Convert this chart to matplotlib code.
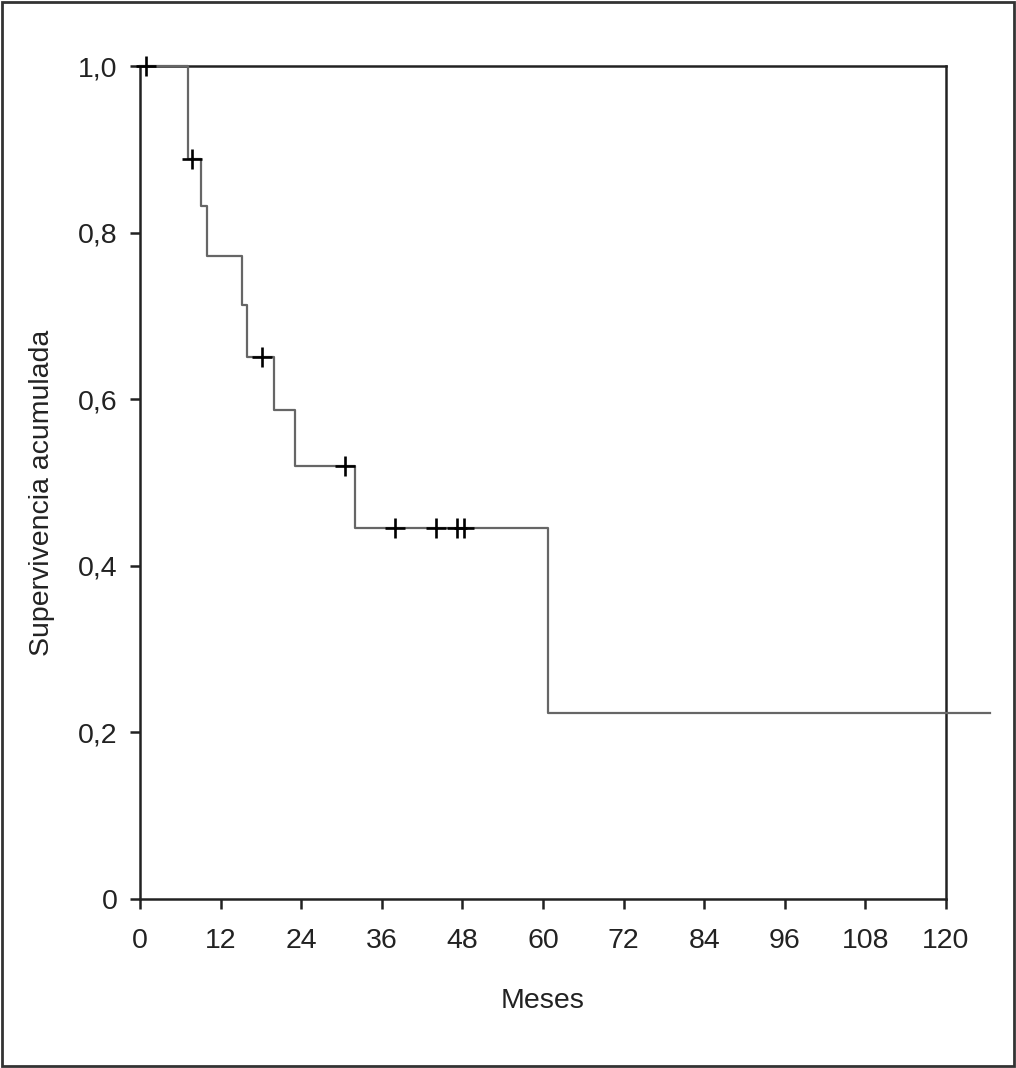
import numpy as np
import matplotlib
matplotlib.use('Agg')
import matplotlib.pyplot as plt
from matplotlib.patches import Rectangle

plt.rcParams['font.family'] = ['Liberation Sans', 'DejaVu Sans']

# Kaplan-Meier steps: time of each event (meses) and survival after it
event_times = [0, 7.1, 9.1, 9.95, 15.2, 15.9, 20.0, 23.1, 32.0, 60.7]
survival = [1.0, 0.888, 0.832, 0.772, 0.713, 0.651, 0.587, 0.520, 0.445, 0.223]
end_time = 126.5
# censored cases
censored_times = [0.9, 7.8, 18.2, 30.5, 38.0, 44.1, 47.2, 48.2]

x_ticks = [0, 12, 24, 36, 48, 60, 72, 84, 96, 108, 120]
y_ticks = [0, 0.2, 0.4, 0.6, 0.8, 1.0]
y_tick_labels = ['0', '0,2', '0,4', '0,6', '0,8', '1,0']

fig = plt.figure(figsize=(10.16, 10.68), dpi=100)
ax = fig.add_axes([0.1378, 0.1582, 0.7933, 0.7800])

# step curve
xs = event_times + [end_time]
ys = survival + [survival[-1]]
ax.step(xs, ys, where='post', color='#666666', lw=1.6, clip_on=False, zorder=3)

# censor marks on the curve
idx = np.searchsorted(event_times, censored_times, side='right') - 1
cens_y = np.array(survival)[idx]
ax.plot(censored_times, cens_y, ls='none', marker='+', ms=15, mew=1.9,
        color='black', clip_on=False, zorder=4)

ax.set_xlim(0, 120)
ax.set_ylim(0, 1.0)
ax.set_xticks(x_ticks)
ax.set_xticklabels([str(t) for t in x_ticks])
ax.set_yticks(y_ticks)
ax.set_yticklabels(y_tick_labels)
ax.tick_params(axis='both', direction='out', length=7, width=1.8,
               labelsize=20.5, color='#222222', labelcolor='#222222')
ax.tick_params(axis='x', pad=14)
ax.tick_params(axis='y', pad=9)
for s in ax.spines.values():
    s.set_linewidth(1.8)
    s.set_color('#222222')

ax.set_xlabel('Meses', fontsize=20.5, color='#222222', labelpad=24)
ax.set_ylabel('Supervivencia acumulada', fontsize=20.5, color='#222222')
ax.yaxis.set_label_coords(-0.105, 0.488)

# outer frame
fig.patches.append(Rectangle((0.002, 0.002), 0.996, 0.996, transform=fig.transFigure,
                             fill=False, lw=2, edgecolor='#333333'))

fig.savefig('out.png', dpi=100)
